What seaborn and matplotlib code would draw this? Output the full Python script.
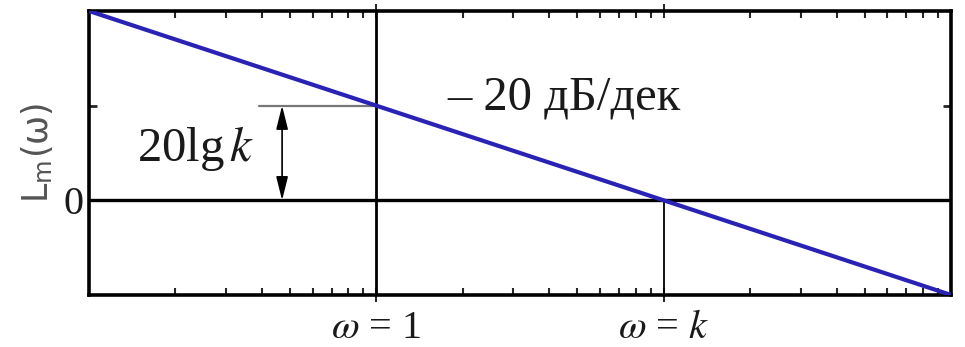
import numpy as np
import matplotlib
matplotlib.use("Agg")
import matplotlib.pyplot as plt
import matplotlib.ticker as mticker
import pandas as pd
import seaborn as sns

# Asymptotic log-magnitude characteristic of an integrator with gain k = 10
omega = [0.1, 1, 10, 100]
L_db = [40, 20, 0, -20]
k_value = 10
gain_db = 20  # 20 lg k

xtick_values = [1, k_value]
xtick_labels = [r"$\omega$ = 1", r"$\omega$ = $k$"]
ytick_values = [0, gain_db]
ytick_labels = ["0", ""]

slope_text = "– 20 дБ/дек"
gain_text = r"20lg$\,k$"
ylabel_text = r"L$_\mathregular{m}$(ω)"

sns.set_theme(style="white")
plt.rcParams["font.family"] = ["Liberation Serif", "DejaVu Serif"]
plt.rcParams["mathtext.fontset"] = "stix"

df = pd.DataFrame({"omega": omega, "L": L_db})

fig = plt.figure(figsize=(9.65, 3.47), dpi=100)
ax = fig.add_axes([0.0922, 0.150, 0.8933, 0.8183])

sns.lineplot(data=df, x="omega", y="L", ax=ax, color="#2a22b4", lw=3.0, zorder=5)

ax.set_xscale("log")
ax.set_xlim(omega[0], omega[-1])
ax.set_ylim(L_db[-1], L_db[0])

# reference lines
ax.axhline(0, color="black", lw=2.4, zorder=3)
ax.axvline(1, color="black", lw=2.0, zorder=3)
ax.plot([k_value, k_value], [L_db[-1], 0], color="black", lw=1.3, zorder=3)
ax.plot([0.39, 1], [gain_db, gain_db], color="#777777", lw=1.6, zorder=3)

# double-headed dimension arrow for 20 lg k
ax.annotate("", xy=(0.47, 0), xytext=(0.47, gain_db),
            arrowprops=dict(arrowstyle="<|-|>,head_length=1.2,head_width=0.3",
                            color="black", lw=1.2, shrinkA=0, shrinkB=0),
            zorder=4)

ax.text(0.235, 11, gain_text, fontsize=35, ha="center", va="center", color="#1a1a1a")
ax.text(4.5, 21.7, slope_text, fontsize=35, ha="center", va="center", color="#1a1a1a")

# ticks
ax.set_xticks(xtick_values)
ax.set_xticklabels(xtick_labels, fontsize=29, color="#1a1a1a")
ax.xaxis.set_minor_locator(mticker.LogLocator(base=10, subs=np.arange(2, 10)))
ax.xaxis.set_minor_formatter(mticker.NullFormatter())
ax.tick_params(axis="x", which="major", direction="inout", length=10, width=1.4,
               top=True, bottom=True, pad=6)
ax.tick_params(axis="x", which="minor", direction="in", length=5, width=1.5,
               top=True, bottom=True)

ax.set_yticks(ytick_values)
ax.set_yticklabels(ytick_labels, fontsize=29, color="#1a1a1a")
ax.tick_params(axis="y", which="major", direction="in", length=6, width=2.0,
               left=True, right=True, pad=4)

ax.set_xlabel("")
ax.set_ylabel(ylabel_text, family=["DejaVu Sans"], fontsize=25, color="#555555",
              labelpad=6)

for s in ax.spines.values():
    s.set_color("black")
    s.set_linewidth(2.6)

fig.savefig("out.png", dpi=100, facecolor="white")
